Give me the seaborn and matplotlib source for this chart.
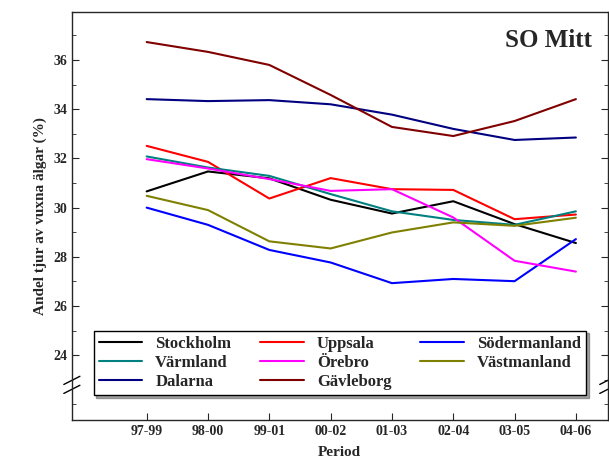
import numpy as np
import pandas as pd
import matplotlib
matplotlib.use("Agg")
import matplotlib.pyplot as plt
import seaborn as sns
from matplotlib.ticker import MultipleLocator

periods = ["97-99", "98-00", "99-01", "00-02", "01-03", "02-04", "03-05", "04-06"]
stockholm = [30.66, 31.47, 31.19, 30.32, 29.76, 30.26, 29.33, 28.56]
uppsala = [32.51, 31.86, 30.37, 31.2, 30.75, 30.72, 29.53, 29.72]
sodermanland = [30.0, 29.3, 28.28, 27.77, 26.93, 27.1, 27.01, 28.72]
varmland = [32.08, 31.63, 31.29, 30.55, 29.85, 29.5, 29.3, 29.85]
orebro = [31.97, 31.59, 31.16, 30.68, 30.75, 29.6, 27.84, 27.4]
vastmanland = [30.48, 29.9, 28.63, 28.34, 28.99, 29.4, 29.26, 29.59]
dalarna = [34.41, 34.33, 34.37, 34.2, 33.78, 33.2, 32.75, 32.85]
gavleborg = [36.73, 36.33, 35.8, 34.58, 33.28, 32.91, 33.52, 34.41]

series = {
    "Stockholm": (stockholm, "black"),
    "Uppsala": (uppsala, "#ff0000"),
    "Södermanland": (sodermanland, "#0000ff"),
    "Värmland": (varmland, "#008080"),
    "Örebro": (orebro, "#ff00ff"),
    "Västmanland": (vastmanland, "#808000"),
    "Dalarna": (dalarna, "#000080"),
    "Gävleborg": (gavleborg, "#800000"),
}

rows = []
for name, (vals, _) in series.items():
    for i, v in enumerate(vals):
        rows.append({"lan": name, "x": i, "andel": v})
df = pd.DataFrame(rows)

sns.set_style("ticks")
plt.rcParams["font.family"] = ["Liberation Serif", "DejaVu Serif"]
plt.rcParams["font.weight"] = "bold"

fig = plt.figure(figsize=(6.09, 4.63), dpi=100)
ax = fig.add_axes([0.118, 0.093, 0.880, 0.881])
palette = {k: c for k, (_, c) in series.items()}
sns.lineplot(data=df, x="x", y="andel", hue="lan", palette=palette, ax=ax, lw=1.5, legend=False)

ax.set_xlim(-1.22, 7.52)
ax.set_ylim(21.37, 37.95)
ax.set_xticks(range(len(periods)))
ax.set_xticklabels(periods, fontsize=10, fontweight="bold")
ax.set_yticks([24, 26, 28, 30, 32, 34, 36])
ax.set_yticklabels(["24", "26", "28", "30", "32", "34", "36"], fontsize=10, fontweight="bold")
ax.yaxis.set_minor_locator(MultipleLocator(1))
ax.tick_params(direction="in", which="both", right=True, top=False, length=5)
ax.tick_params(which="minor", length=3)
ax.set_xlabel("Period", fontsize=11, fontweight="bold", labelpad=6)
ax.set_ylabel("Andel tjur av vuxna älgar (%)", fontsize=11, fontweight="bold")
for s in ax.spines.values():
    s.set_linewidth(1.0)

# axis break marks
for xa in (0, 1):
    ax.plot([xa - 0.012, xa + 0.012], [0.075, 0.095], transform=ax.transAxes, color="white", lw=5, clip_on=False)
    for dy in (0.0, 0.022):
        ax.plot([xa - 0.015, xa + 0.015], [0.065 + dy, 0.085 + dy], transform=ax.transAxes,
                color="black", lw=1, clip_on=False)

ax.text(0.97, 0.93, "SO Mitt", transform=ax.transAxes, ha="right", va="center",
        fontsize=18, fontweight="bold")

names = list(series.keys())
order = [0, 3, 6, 1, 4, 7, 2, 5]
handles = [plt.Line2D([], [], color=series[names[i]][1], lw=1.5) for i in order]
leg = ax.legend(handles, [names[i] for i in order], ncol=3, loc="lower left",
                bbox_to_anchor=(0.025, 0.04, 0.95, 0.22), mode="expand",
                frameon=True, fancybox=False, shadow=True, edgecolor="black",
                prop={"weight": "bold", "size": 12}, handlelength=2.6,
                borderpad=0.3, labelspacing=0.2, columnspacing=1.0)
leg.get_frame().set_linewidth(1.0)

fig.savefig("out.png", dpi=100)
